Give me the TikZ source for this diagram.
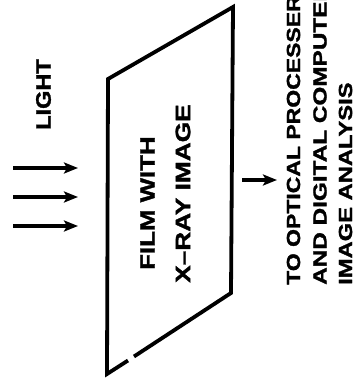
\documentclass[tikz,border=0pt]{standalone}
\usepackage{fontspec}
\setmainfont{Liberation Sans}
\newfontfamily\heavyfont{Liberation Sans Bold}[FakeBold=1.3]
\usetikzlibrary{arrows.meta}
\tikzset{
  film/.style={line width=3.8pt, line join=miter},
  lightarrow/.style={line width=3.2pt, -{Stealth[length=14pt,width=11pt,inset=3pt]}},
  label/.style={rotate=90, anchor=west, inner sep=0pt, font=\heavyfont\fontsize{21}{25}\selectfont},
  smalllabel/.style={rotate=90, anchor=west, inner sep=0pt, font=\heavyfont\fontsize{19}{23}\selectfont}
}
\begin{document}
\begin{tikzpicture}[x=1pt,y=-1pt]
\useasboundingbox (0,0) rectangle (357,382);
\clip (0,0) rectangle (357,382);
% film corners
\coordinate (TL) at (108,79);
\coordinate (TR) at (233,7);
\coordinate (BR) at (231,293);
\coordinate (BL) at (107,374);
\coordinate (GL) at (128,360.5);
\coordinate (GR) at (134,356.5);
\draw[film] (GR) -- (BR) -- (TR) -- (TL) -- (BL) -- (GL);
% light arrows
\coordinate (a1s) at (13,168); \coordinate (a1e) at (78,168);
\coordinate (a2s) at (13,197); \coordinate (a2e) at (78,197);
\coordinate (a3s) at (13,226); \coordinate (a3e) at (78,226);
\draw[lightarrow] (a1s) -- (a1e);
\draw[lightarrow] (a2s) -- (a2e);
\draw[lightarrow] (a3s) -- (a3e);
% output arrow
\coordinate (os) at (242,180); \coordinate (oe) at (277,180);
\draw[lightarrow] (os) -- (oe);
% labels
\node[label] (light) at (43.5,130) {\scalebox{1.12}[1]{LIGHT}};
\node[label] (film1) at (147.5,270) {\scalebox{1.23}[1]{FILM WITH}};
\node[label] (film2) at (183,283) {\scalebox{1.25}[1]{X–RAY IMAGE}};
\node[smalllabel] (out1) at (293.5,285) {\scalebox{1.21}[1]{TO OPTICAL PROCESSER}};
\node[smalllabel] (out2) at (320,285) {\scalebox{1.28}[1]{AND DIGITAL COMPUTER}};
\node[smalllabel] (out3) at (345.5,285) {\scalebox{1.25}[1]{IMAGE ANALYSIS}};
\end{tikzpicture}
\end{document}
